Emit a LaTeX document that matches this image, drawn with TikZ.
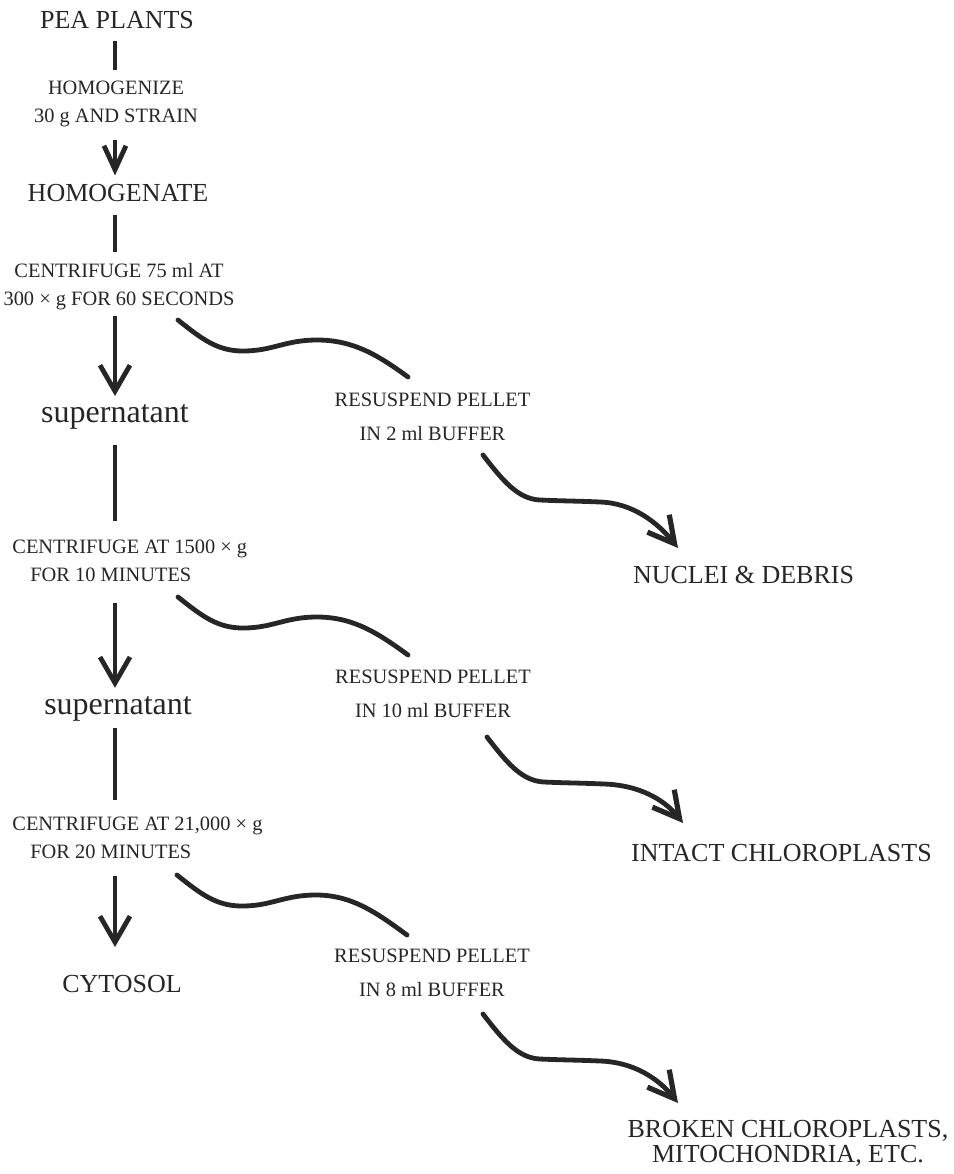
\documentclass[tikz,border=0pt]{standalone}
\usepackage{fontspec}
\setmainfont{Liberation Serif}
\usetikzlibrary{arrows.meta}

\begin{document}
\begin{tikzpicture}[x=0.5pt,y=-0.5pt,
  txt/.style={inner sep=0pt,text=black!85},
  big/.style={txt,font=\fontsize{13}{15}\selectfont},
  sup/.style={txt,font=\fontsize{16}{18}\selectfont},
  stp/.style={txt,font=\fontsize{10.2}{14}\selectfont,align=center},
  res/.style={txt,font=\fontsize{10.2}{17}\selectfont,align=center},
  ln/.style={draw=black!85,line width=1.8pt},
  arr/.style={ln,-{Straight Barb[length=13pt,width=15pt,line width=2.4pt]}},
  wave/.style={draw=black!85,line width=2.4pt,line cap=round},
  wavearr/.style={wave,-{Straight Barb[length=13pt,width=14pt,line width=2.6pt]}}]
  \useasboundingbox (0,0) rectangle (954,1174);
  \coordinate (axis) at (115,0);
  \node[big] (pea) at (117,20) {PEA PLANTS};
  \node[stp] (st1) at (116,104.2) {HOMOGENIZE\\30 g AND STRAIN};
  \node[big] (hgt) at (118,193) {HOMOGENATE};
  \node[stp] (c1) at (119,287) {CENTRIFUGE 75 ml AT\\300 × g FOR 60 SECONDS};
  \node[sup] (sup1) at (115,417.2) {supernatant};
  \node[stp,align=left,anchor=west] (c2) at (12,561) {CENTRIFUGE AT 1500 × g\\\hspace*{9pt}FOR 10 MINUTES};
  \node[sup] (sup2) at (118,709) {supernatant};
  \node[stp,align=left,anchor=west] (c3) at (12,838) {CENTRIFUGE AT 21,000 × g\\\hspace*{9pt}FOR 20 MINUTES};
  \node[big] (cyto) at (122,984.5) {CYTOSOL};
  \node[res] (r1) at (432.5,416.5) {RESUSPEND PELLET\\IN 2 ml BUFFER};
  \node[res] (r2) at (433,694) {RESUSPEND PELLET\\IN 10 ml BUFFER};
  \node[res] (r3) at (432,972.5) {RESUSPEND PELLET\\IN 8 ml BUFFER};
  \node[big] (nuc) at (743.5,575) {NUCLEI \& DEBRIS};
  \node[big] (intact) at (781.5,853.5) {INTACT CHLOROPLASTS};
  \node[big,align=center,font=\fontsize{13}{12.5}\selectfont] (broken) at (788,1143.3) {BROKEN CHLOROPLASTS,\\MITOCHONDRIA, ETC.};
  % main column
  \draw[ln,shorten <=5.7pt,shorten >=5.6pt] (pea.south -| axis) -- (st1.north -| axis);
  \draw[arr,shorten <=6.4pt,shorten >=4.2pt,-{Straight Barb[length=12pt,width=11pt,line width=2.4pt]}] (st1.south -| axis) -- (hgt.north -| axis);
  \draw[ln,shorten <=6.2pt,shorten >=5.9pt] (hgt.south -| axis) -- (c1.north -| axis);
  \draw[arr,shorten <=2.9pt,shorten >=4.2pt] (c1.south -| axis) -- (sup1.north -| axis);
  \draw[ln,shorten <=7.5pt,shorten >=9.6pt] (sup1.south -| axis) -- (c2.north -| axis);
  \draw[arr,shorten <=10.6pt,shorten >=4.2pt] (c2.south -| axis) -- (sup2.north -| axis);
  \draw[ln,shorten <=3pt,shorten >=8.6pt] (sup2.south -| axis) -- (c3.north -| axis);
  \draw[arr,shorten <=8.6pt,shorten >=14.2pt] (c3.south -| axis) -- (cyto.north -| axis);
  % pellets
  \coordinate (p1) at (178,320);  \coordinate (q1) at (408,377);
  \coordinate (s1) at (483,455);  \coordinate (t1) at (678,548);
  \coordinate (p2) at (178,597);  \coordinate (q2) at (408,655);
  \coordinate (s2) at (487,737);  \coordinate (t2) at (683,823);
  \coordinate (p3) at (177,875);  \coordinate (q3) at (407,935);
  \coordinate (s3) at (483,1014); \coordinate (t3) at (678,1103);
  \draw[wave] (p1) .. controls +(25,20) and +(-25,0) .. ++(65,31) .. controls +(30,0) and +(-32,0) .. ++(74,-11) .. controls +(36,0) and +(-30,-22) .. (q1);
  \draw[wavearr] (s1) .. controls +(20,26) and +(-22,-1) .. ++(57,45) .. controls +(22,1) and +(-22,-1) .. ++(60,2) .. controls +(33,1) and +(-20,-25) .. (t1);
  \draw[wave] (p2) .. controls +(25,20) and +(-25,0) .. ++(65,31) .. controls +(30,0) and +(-32,0) .. ++(74,-11) .. controls +(36,0) and +(-30,-22) .. (q2);
  \draw[wavearr] (s2) .. controls +(20,26) and +(-22,-1) .. ++(57,45) .. controls +(22,1) and +(-22,-1) .. ++(60,2) .. controls +(33,1) and +(-20,-25) .. (t2);
  \draw[wave] (p3) .. controls +(25,20) and +(-25,0) .. ++(65,31) .. controls +(30,0) and +(-32,0) .. ++(74,-11) .. controls +(36,0) and +(-30,-22) .. (q3);
  \draw[wavearr] (s3) .. controls +(20,26) and +(-22,-1) .. ++(57,45) .. controls +(22,1) and +(-22,-1) .. ++(60,2) .. controls +(33,1) and +(-20,-25) .. (t3);
\end{tikzpicture}
\end{document}
